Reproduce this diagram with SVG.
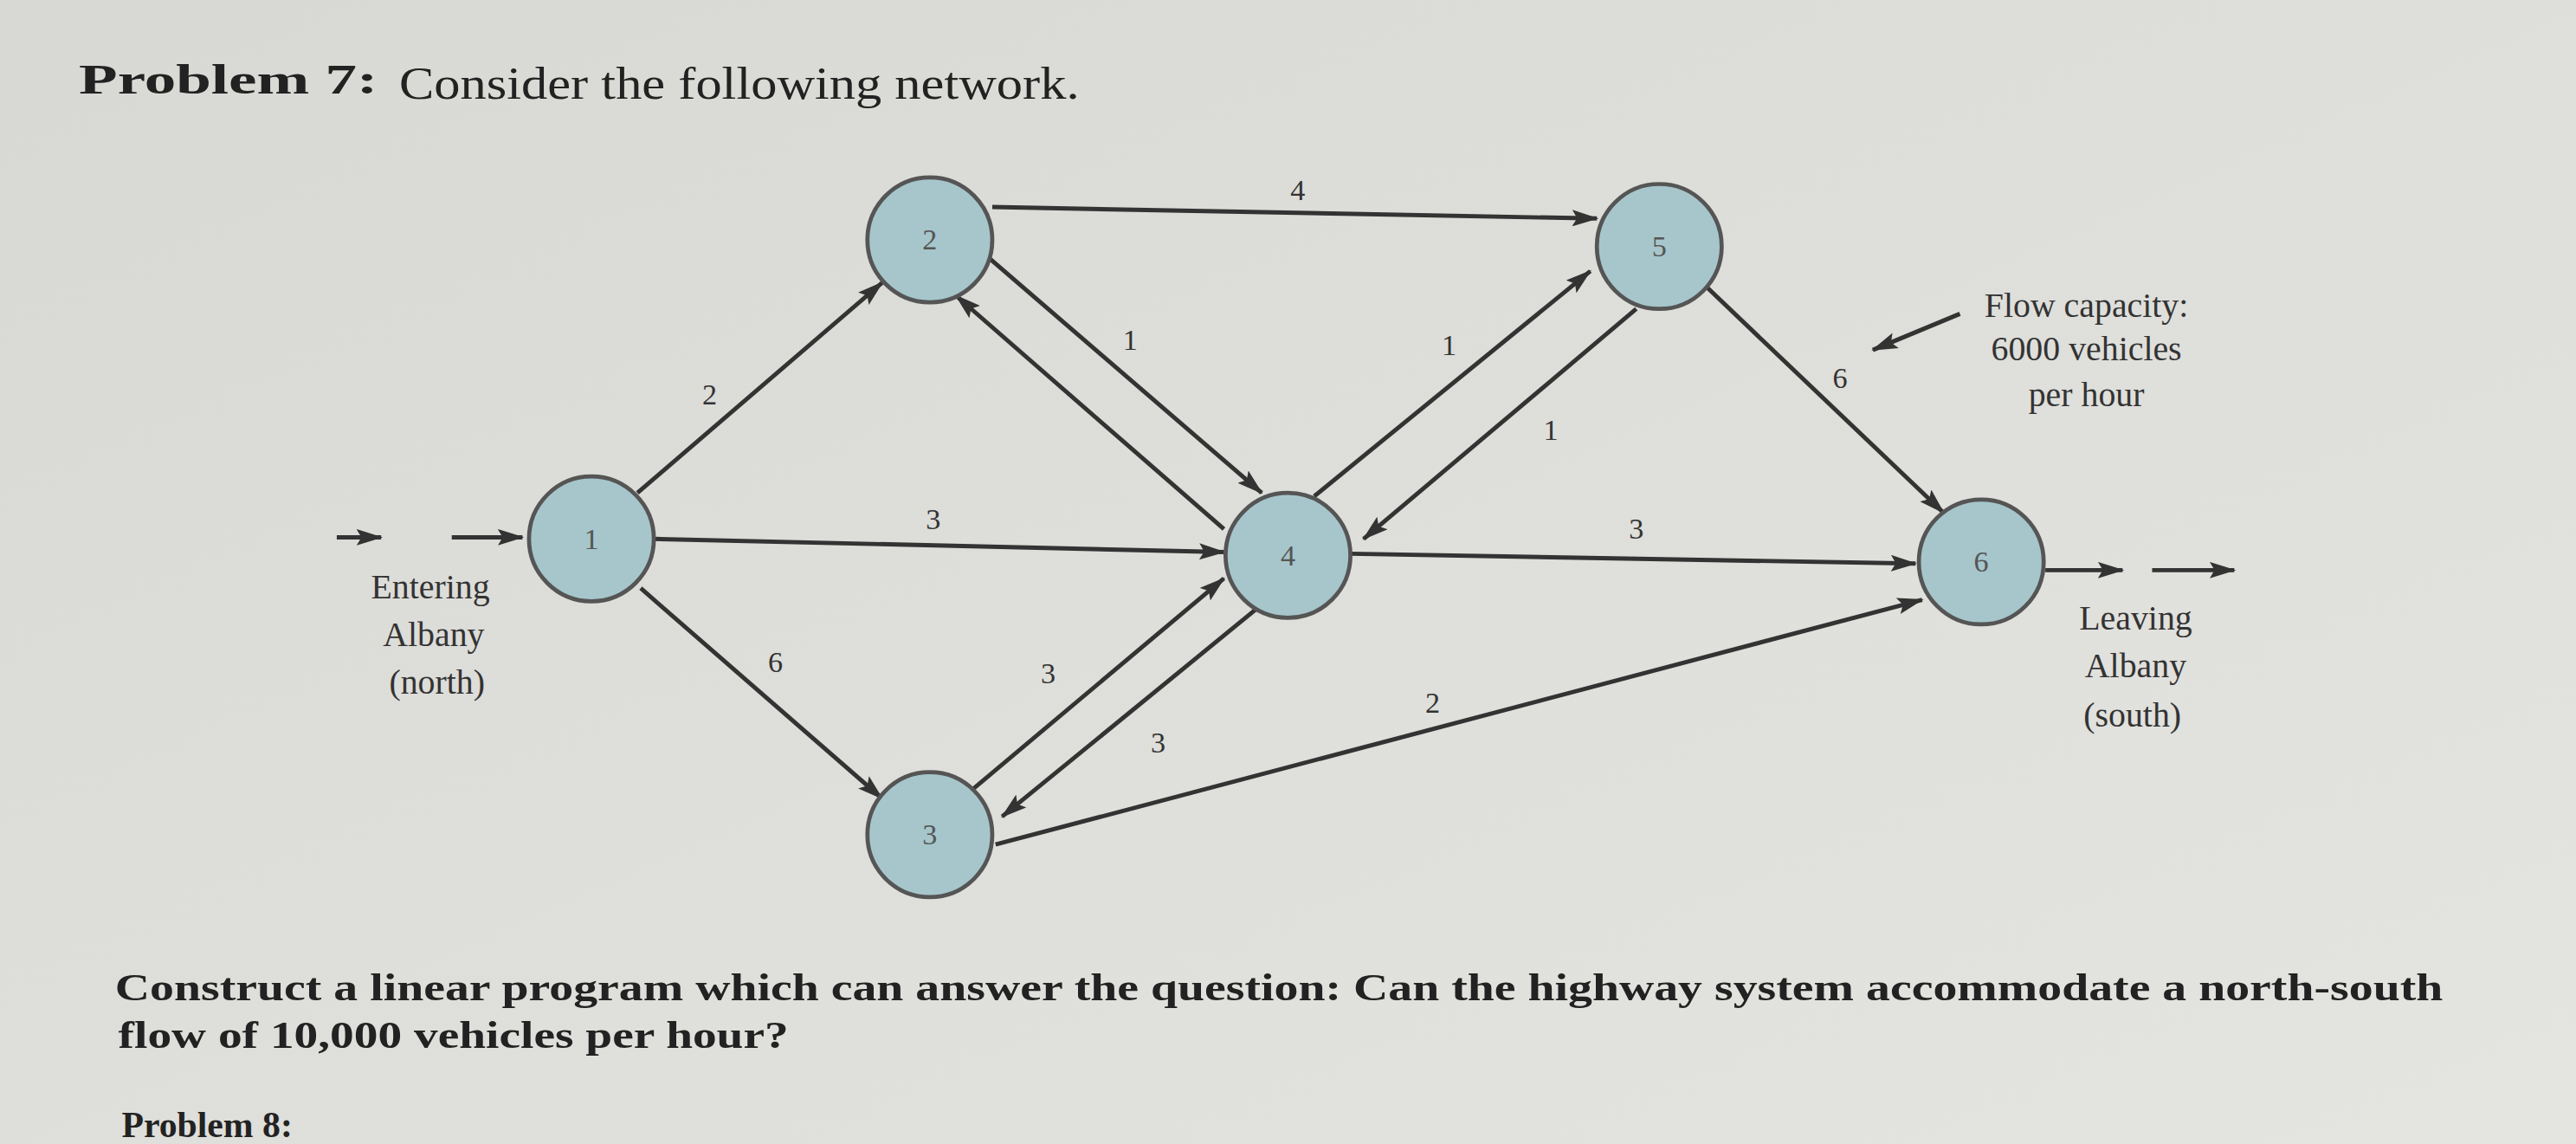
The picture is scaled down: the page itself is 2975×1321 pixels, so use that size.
<svg xmlns="http://www.w3.org/2000/svg" width="2975" height="1321" viewBox="0 0 2975 1321">
<defs>
<marker id="ah" markerWidth="16" markerHeight="10" refX="15" refY="5" orient="auto" markerUnits="userSpaceOnUse"><path d="M0,0 L16,5 L0,10 L3,5 Z" fill="#333"/></marker>
<linearGradient id="bg" x1="0" y1="0" x2="1" y2="1"><stop offset="0" stop-color="#d8d8d4"/><stop offset="1" stop-color="#e4e4e0"/></linearGradient>
</defs>
<style>
.t{font-family:"Liberation Serif",serif;fill:#222}
.n circle{fill:#a6c6cb;stroke:#555;stroke-width:2.5}
.n text{font-family:"Liberation Serif",serif;font-size:18px;fill:#555;text-anchor:middle}
.e line{stroke:#333;stroke-width:2.6;marker-end:url(#ah)}
.l{font-family:"Liberation Serif",serif;font-size:18px;fill:#333;text-anchor:middle}
.c{font-family:"Liberation Serif",serif;font-size:21px;fill:#333;text-anchor:middle}
</style>
<rect width="2975" height="1321" fill="url(#bg)"/>
<g transform="scale(1.8973)">
<text class="t" x="48" y="57" font-size="26" font-weight="bold" textLength="182" lengthAdjust="spacingAndGlyphs">Problem 7:</text>
<text class="t" x="243" y="60" font-size="28" textLength="414" lengthAdjust="spacingAndGlyphs">Consider the following network.</text>
<g class="e" id="connectors">
<line x1="388" y1="300" x2="537" y2="172"/>
<line x1="398" y1="328" x2="745" y2="336"/>
<line x1="390" y1="358" x2="537" y2="486"/>
<line x1="604" y1="126" x2="972" y2="133"/>
<line x1="602" y1="157" x2="768" y2="300"/>
<line x1="745" y1="322" x2="582" y2="180"/>
<line x1="583" y1="488" x2="745" y2="352"/>
<line x1="768" y1="368" x2="610" y2="497"/>
<line x1="800" y1="302" x2="968" y2="165"/>
<line x1="996" y1="188" x2="830" y2="328"/>
<line x1="822" y1="337" x2="1166" y2="343"/>
<line x1="606" y1="514" x2="1170" y2="365"/>
<line x1="1036" y1="172" x2="1183" y2="312"/>
<line x1="205" y1="327" x2="232" y2="327"/>
<line x1="275" y1="327" x2="318" y2="327"/>
<line x1="1245" y1="347" x2="1292" y2="347"/>
<line x1="1310" y1="347" x2="1360" y2="347"/>
<line x1="1193" y1="191" x2="1140" y2="213"/>
</g>
<g id="n1" class="n"><circle cx="360" cy="328" r="38"/><text x="360" y="334">1</text></g>
<g id="n2" class="n"><circle cx="566" cy="146" r="38"/><text x="566" y="152">2</text></g>
<g id="n3" class="n"><circle cx="566" cy="508" r="38"/><text x="566" y="514">3</text></g>
<g id="n4" class="n"><circle cx="784" cy="338" r="38"/><text x="784" y="344">4</text></g>
<g id="n5" class="n"><circle cx="1010" cy="150" r="38"/><text x="1010" y="156">5</text></g>
<g id="n6" class="n"><circle cx="1206" cy="342" r="38"/><text x="1206" y="348">6</text></g>
<g id="labels">
<text class="l" x="790" y="122">4</text>
<text class="l" x="432" y="246">2</text>
<text class="l" x="688" y="213">1</text>
<text class="l" x="882" y="216">1</text>
<text class="l" x="944" y="268">1</text>
<text class="l" x="1120" y="236">6</text>
<text class="l" x="568" y="322">3</text>
<text class="l" x="996" y="328">3</text>
<text class="l" x="472" y="409">6</text>
<text class="l" x="638" y="416">3</text>
<text class="l" x="705" y="458">3</text>
<text class="l" x="872" y="434">2</text>
<text class="c" x="1270" y="193">Flow capacity:</text>
<text class="c" x="1270" y="219">6000 vehicles</text>
<text class="c" x="1270" y="247">per hour</text>
<text class="c" x="262" y="364">Entering</text>
<text class="c" x="264" y="393">Albany</text>
<text class="c" x="266" y="422">(north)</text>
<text class="c" x="1300" y="383">Leaving</text>
<text class="c" x="1300" y="412">Albany</text>
<text class="c" x="1298" y="442">(south)</text>
</g>
<text class="t" x="70" y="609" font-size="23" font-weight="bold" textLength="1417" lengthAdjust="spacingAndGlyphs">Construct a linear program which can answer the question: Can the highway system accommodate a north-south</text>
<text class="t" x="72" y="638" font-size="23" font-weight="bold" textLength="408" lengthAdjust="spacingAndGlyphs">flow of 10,000 vehicles per hour?</text>
<text class="t" x="74" y="692" font-size="22" font-weight="bold">Problem 8:</text>
</g>
</svg>
